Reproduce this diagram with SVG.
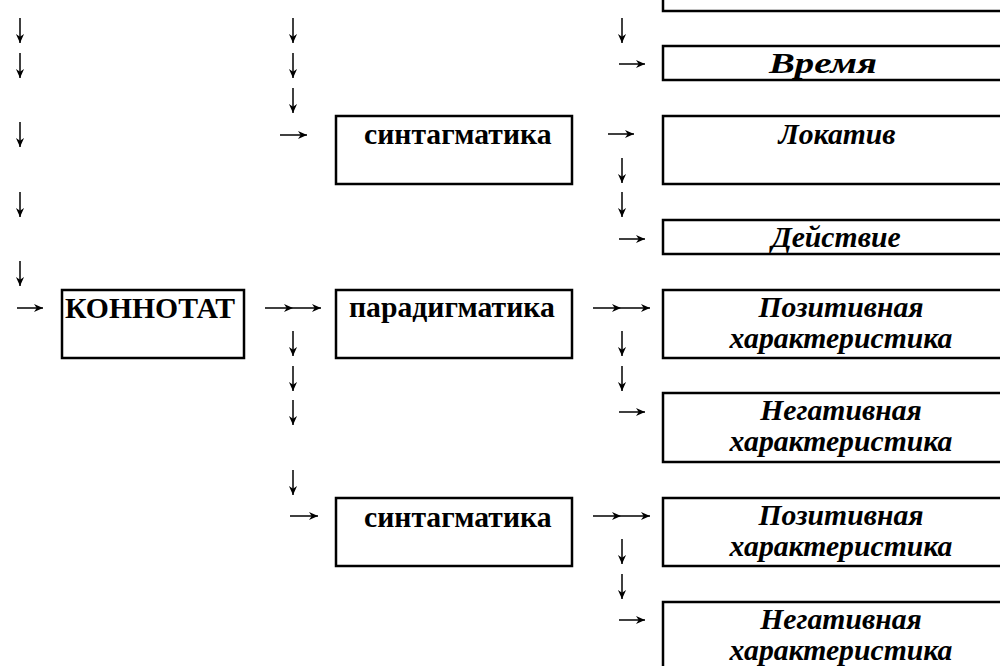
<svg xmlns="http://www.w3.org/2000/svg" width="1000" height="666" viewBox="0 0 1000 666">
<style>
.box{fill:none;stroke:#000;stroke-width:2.5}
.b{font-family:"Liberation Serif","Times New Roman",serif;font-size:29.7px;font-weight:bold;fill:#000}
.i{font-family:"Liberation Serif","Times New Roman",serif;font-size:29.7px;font-weight:bold;font-style:italic;fill:#000;text-anchor:middle}
.c line{stroke:#000;stroke-width:1.5;marker-end:url(#ah)}
</style>
<defs>
<marker id="ah" viewBox="0 0 10 10" refX="10" refY="5" markerWidth="9" markerHeight="10" markerUnits="userSpaceOnUse" orient="auto">
<path d="M0,0.5 L10,5 L0,9.5 L3,5 Z" fill="#000"/>
</marker>
</defs>
<rect width="1000" height="666" fill="#fff"/>
<g id="connectors" class="c">
<line x1="20" y1="18" x2="20" y2="43"/>
<line x1="20" y1="53" x2="20" y2="78"/>
<line x1="20" y1="122" x2="20" y2="147"/>
<line x1="20" y1="192" x2="20" y2="217"/>
<line x1="20" y1="261" x2="20" y2="286"/>
<line x1="17" y1="308" x2="43" y2="308"/>
<line x1="293" y1="18" x2="293" y2="43"/>
<line x1="293" y1="53" x2="293" y2="78"/>
<line x1="293" y1="88" x2="293" y2="113"/>
<line x1="280" y1="135" x2="307" y2="135"/>
<line x1="265" y1="308" x2="293" y2="308"/>
<line x1="293" y1="308" x2="321" y2="308"/>
<line x1="293" y1="331" x2="293" y2="356"/>
<line x1="293" y1="366" x2="293" y2="391"/>
<line x1="293" y1="400" x2="293" y2="425"/>
<line x1="293" y1="470" x2="293" y2="495"/>
<line x1="290" y1="516" x2="318" y2="516"/>
<line x1="622" y1="18" x2="622" y2="43"/>
<line x1="619" y1="64" x2="645" y2="64"/>
<line x1="608" y1="134" x2="634" y2="134"/>
<line x1="622" y1="158" x2="622" y2="183"/>
<line x1="622" y1="192" x2="622" y2="217"/>
<line x1="619" y1="239" x2="645" y2="239"/>
<line x1="593" y1="308" x2="621" y2="308"/>
<line x1="621" y1="308" x2="650" y2="308"/>
<line x1="622" y1="331" x2="622" y2="356"/>
<line x1="622" y1="366" x2="622" y2="391"/>
<line x1="619" y1="412" x2="645" y2="412"/>
<line x1="593" y1="516" x2="621" y2="516"/>
<line x1="621" y1="516" x2="650" y2="516"/>
<line x1="622" y1="539" x2="622" y2="564"/>
<line x1="622" y1="574" x2="622" y2="599"/>
<line x1="619" y1="620" x2="645" y2="620"/>
</g>
<g id="top-box"><rect class="box" x="663" y="-60" width="360" height="71"/></g>
<g id="konnotat"><rect class="box" x="62" y="290" width="182" height="68"/><text class="b" x="65" y="318">КОННОТАТ</text></g>
<g id="sint1"><rect class="box" x="336" y="116" width="236" height="68"/><text class="b" x="364" y="144">синтагматика</text></g>
<g id="parad"><rect class="box" x="336" y="290" width="236" height="68"/><text class="b" x="349" y="317">парадигматика</text></g>
<g id="sint2"><rect class="box" x="336" y="498" width="236" height="68"/><text class="b" x="364" y="527">синтагматика</text></g>
<g id="vremya"><rect class="box" x="663" y="46" width="360" height="34"/><text class="i" x="823" y="73" font-size="31" textLength="108" lengthAdjust="spacingAndGlyphs">Время</text></g>
<g id="lokativ"><rect class="box" x="663" y="116" width="360" height="68"/><text class="i" x="837" y="144">Локатив</text></g>
<g id="deistvie"><rect class="box" x="663" y="220" width="360" height="34"/><text class="i" x="836" y="247">Действие</text></g>
<g id="pos1"><rect class="box" x="663" y="290" width="360" height="68"/><text class="i" x="841" y="317">Позитивная</text><text class="i" x="841" y="348">характеристика</text></g>
<g id="neg1"><rect class="box" x="663" y="393" width="360" height="69"/><text class="i" x="841" y="420">Негативная</text><text class="i" x="841" y="451">характеристика</text></g>
<g id="pos2"><rect class="box" x="663" y="498" width="360" height="68"/><text class="i" x="841" y="525">Позитивная</text><text class="i" x="841" y="556">характеристика</text></g>
<g id="neg2"><rect class="box" x="663" y="602" width="360" height="100"/><text class="i" x="841" y="629">Негативная</text><text class="i" x="841" y="660">характеристика</text></g>
</svg>
